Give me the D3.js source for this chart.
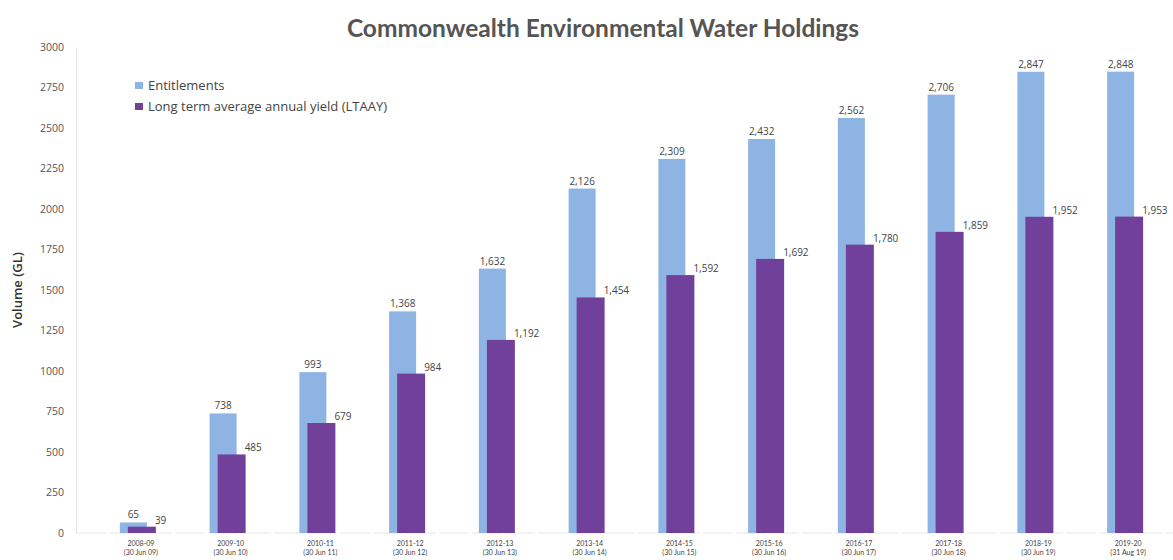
<!DOCTYPE html>
<html>
<head>
<meta charset="utf-8">
<script src="https://cdn.jsdelivr.net/npm/d3@7"></script>
<style>
  body { margin: 0; background: #fff; }
  svg { display: block; font-family: "Open Sans", sans-serif; }
</style>
</head>
<body>
<svg id="chart" width="1173" height="560"></svg>
<script>
// data
var years = ["2008-09", "2009-10", "2010-11", "2011-12", "2012-13", "2013-14", "2014-15", "2015-16", "2016-17", "2017-18", "2018-19", "2019-20"]
var dates = ["(30 Jun 09)", "(30 Jun 10)", "(30 Jun 11)", "(30 Jun 12)", "(30 Jun 13)", "(30 Jun 14)", "(30 Jun 15)", "(30 Jun 16)", "(30 Jun 17)", "(30 Jun 18)", "(30 Jun 19)", "(31 Aug 19)"]
var entitlements = [65, 738, 993, 1368, 1632, 2126, 2309, 2432, 2562, 2706, 2847, 2848]
var ltaay = [39, 485, 679, 984, 1192, 1454, 1592, 1692, 1780, 1859, 1952, 1953]
var yTicks = [0, 250, 500, 750, 1000, 1250, 1500, 1750, 2000, 2250, 2500, 2750, 3000]
var legendNames = ["Entitlements", "Long term average annual yield (LTAAY)"]

var blue = "#8eb4e3"
var purple = "#71409a"
var textColor = "#444"

var svg = d3.select("#chart")

// scales
var x = d3.scaleBand()
  .domain(years)
  .range([93, 1170])
  .padding(0)

var y = d3.scaleLinear()
  .domain([0, 3000])
  .range([533, 47])

var fmt = d3.format(",")

// title
svg.append("text")
  .attr("x", 603)
  .attr("y", 37)
  .attr("text-anchor", "middle")
  .style("font-family", "Lato, sans-serif")
  .style("font-size", "24.5px")
  .style("font-weight", "bold")
  .style("fill", "#555")
  .text("Commonwealth Environmental Water Holdings")

// y axis
var yAxis = d3.axisLeft(y).tickValues(yTicks).tickSize(0).tickPadding(12).tickFormat(d3.format("d"))
var yG = svg.append("g")
  .attr("transform", "translate(76,0)")
  .call(yAxis)
yG.select(".domain").attr("stroke", "#e4e4e4")
yG.selectAll("text")
  .style("font-size", "10.5px")
  .style("fill", "#555")
  .style("font-family", "Open Sans, sans-serif")

// y title
svg.append("text")
  .attr("transform", "translate(22,290) rotate(-90)")
  .attr("text-anchor", "middle")
  .style("font-size", "13px")
  .style("font-weight", "600")
  .style("fill", "#333")
  .text("Volume (GL)")

// faint baseline
svg.append("line")
  .attr("x1", 76).attr("x2", 1173)
  .attr("y1", y(0)).attr("y2", y(0))
  .attr("stroke", "#e6e6e6")
  .attr("stroke-dasharray", "30,3")

// x labels
var xLab = svg.append("g").selectAll("g")
  .data(years)
  .join("g")
  .attr("transform", function(d) { return "translate(" + (x(d) + x.bandwidth() / 2 + 3) + ",0)" })

xLab.append("text")
  .attr("y", 546)
  .attr("text-anchor", "middle")
  .style("font-family", "Lato, sans-serif")
  .style("font-size", "7px")
  .style("fill", textColor)
  .text(function(d) { return d })

xLab.append("text")
  .attr("y", 555)
  .attr("text-anchor", "middle")
  .style("font-family", "Lato, sans-serif")
  .style("font-size", "7px")
  .style("fill", textColor)
  .text(function(d, i) { return dates[i] })

// bars: entitlements sit behind, LTAAY offset to the right
var groups = svg.append("g").selectAll("g")
  .data(years)
  .join("g")
  .attr("transform", function(d) { return "translate(" + (x(d) + x.bandwidth() / 2) + ",0)" })

groups.append("rect")
  .attr("x", -18)
  .attr("width", 27)
  .attr("y", function(d, i) { return y(entitlements[i]) })
  .attr("height", function(d, i) { return y(0) - y(entitlements[i]) })
  .attr("fill", blue)

groups.append("rect")
  .attr("x", -10)
  .attr("width", 28)
  .attr("y", function(d, i) { return y(ltaay[i]) })
  .attr("height", function(d, i) { return y(0) - y(ltaay[i]) })
  .attr("fill", purple)

// value labels
groups.append("text")
  .attr("x", -4.5)
  .attr("y", function(d, i) { return y(entitlements[i]) - 4 })
  .attr("text-anchor", "middle")
  .style("font-size", "10px")
  .style("fill", textColor)
  .text(function(d, i) { return fmt(entitlements[i]) })

groups.append("text")
  .attr("x", 17)
  .attr("y", function(d, i) { return y(ltaay[i]) - 3 })
  .style("font-size", "10px")
  .style("fill", textColor)
  .text(function(d, i) { return fmt(ltaay[i]) })

// legend
var legend = svg.append("g").selectAll("g")
  .data(legendNames)
  .join("g")
  .attr("transform", function(d, i) { return "translate(135," + (82 + i * 21) + ")" })

legend.append("rect")
  .attr("width", 8)
  .attr("height", 7)
  .attr("fill", function(d, i) { return i == 0 ? blue : purple })

legend.append("text")
  .attr("x", 13)
  .attr("y", 8)
  .style("font-size", "13px")
  .style("fill", textColor)
  .text(function(d) { return d })
</script>
</body>
</html>
